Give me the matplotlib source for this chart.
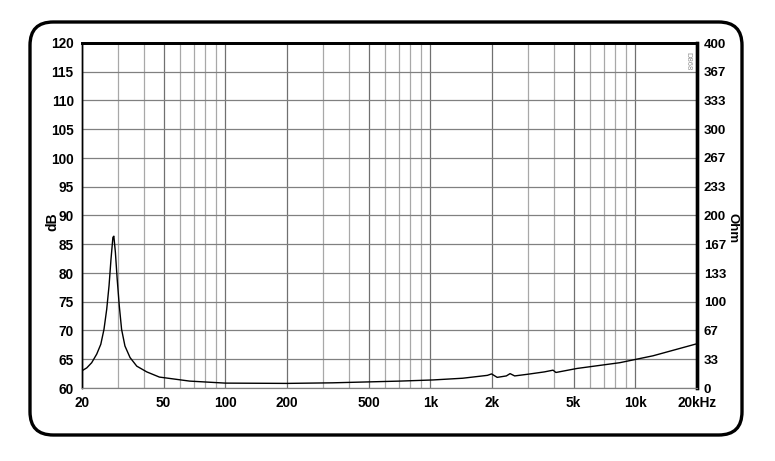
import numpy as np
import matplotlib.pyplot as plt
from matplotlib.patches import FancyBboxPatch

# impedance curve, plotted on the dB scale
freq = [20, 21.1, 22.3, 23.6, 24.7, 25.6, 26.4, 27.1, 27.7, 28.3, 28.6, 29.1,
        29.7, 30.4, 31.2, 32.4, 34.3, 37.0, 41.4, 47.7, 67, 100,
        200, 333, 710, 1030, 1440, 1900, 1990, 2120, 2350, 2450, 2580, 3000,
        3600, 3970, 4100, 5200, 8400, 12200, 20000]
level = [63.0, 63.5, 64.4, 65.9, 67.6, 70.2, 73.7, 77.8, 82.4, 86.2, 86.4, 83.6,
         78.9, 74.3, 70.2, 67.3, 65.3, 63.8, 62.8, 61.9, 61.2, 60.85,
         60.8, 60.9, 61.2, 61.4, 61.7, 62.2, 62.45, 61.85, 62.1, 62.5, 62.1, 62.4,
         62.8, 63.1, 62.7, 63.4, 64.4, 65.6, 67.7]

db_ticks = list(range(60, 121, 5))
ohm_labels = ['0', '33', '67', '100', '133', '167', '200', '233', '267', '300', '333', '367', '400']
x_ticks = [20, 50, 100, 200, 500, 1000, 2000, 5000, 10000, 20000]
x_labels = ['20', '50', '100', '200', '500', '1k', '2k', '5k', '10k', '20kHz']

plt.rcParams['font.family'] = ['Liberation Sans', 'DejaVu Sans']

fig = plt.figure(figsize=(7.75, 4.61), dpi=100)
box = FancyBboxPatch((30 / 775, 26 / 461), 712 / 775, 413 / 461,
                     boxstyle="round,pad=0,rounding_size=0.03",
                     transform=fig.transFigure, fill=False, lw=2.4, ec='black',
                     mutation_aspect=775 / 461)
fig.patches.append(box)

ax = fig.add_axes([82 / 775, 73 / 461, 615 / 775, 345 / 461])
ax.set_xscale('log')
ax.set_xlim(20, 20000)
ax.set_ylim(60, 120)

# vertical grid: 1-2-3..9 per decade
minor = [m * 10 ** e for e in range(1, 5) for m in range(1, 10) if 20 <= m * 10 ** e <= 20000]
for f in minor:
    c = '#707070' if f in x_ticks else '#a8a8a8'
    ax.axvline(f, color=c, lw=0.9, zorder=1)
for d in db_ticks:
    ax.axhline(d, color='#808080', lw=0.9, zorder=1)

ax.plot(freq, level, color='black', lw=1.0, zorder=3, solid_joinstyle='round')

ax.set_xticks(x_ticks)
ax.set_xticklabels(x_labels)
ax.xaxis.set_minor_locator(plt.NullLocator())
ax.set_yticks(db_ticks)
ax.tick_params(length=0, labelsize=9.8, pad=6)
for lab in ax.get_xticklabels() + ax.get_yticklabels():
    lab.set_fontweight('bold')

ax2 = ax.twinx()
ax2.set_ylim(60, 120)
ax2.set_yticks(db_ticks)
ax2.set_yticklabels(ohm_labels, fontweight='bold')
ax2.tick_params(length=0, labelsize=9.5, pad=5)

for a in (ax, ax2):
    a.spines['top'].set_linewidth(2.0)
    a.spines['right'].set_linewidth(2.4)
    a.spines['left'].set_linewidth(1.0)
    a.spines['bottom'].set_linewidth(0.8)
    a.spines['bottom'].set_color('#808080')

fig.text(52 / 775, 1 - 222 / 461, 'dB', rotation=90, ha='center', va='center',
         fontsize=10, fontweight='bold')
fig.text(733 / 775, 1 - 228 / 461, 'Ohm', rotation=270, ha='center', va='center',
         fontsize=9.5, fontweight='bold')
ax.text(0.985, 0.975, 'D868', transform=ax.transAxes, rotation=270, ha='center',
        va='top', fontsize=5.5, color='#909090', zorder=4)

fig.savefig('out.png', dpi=100)
